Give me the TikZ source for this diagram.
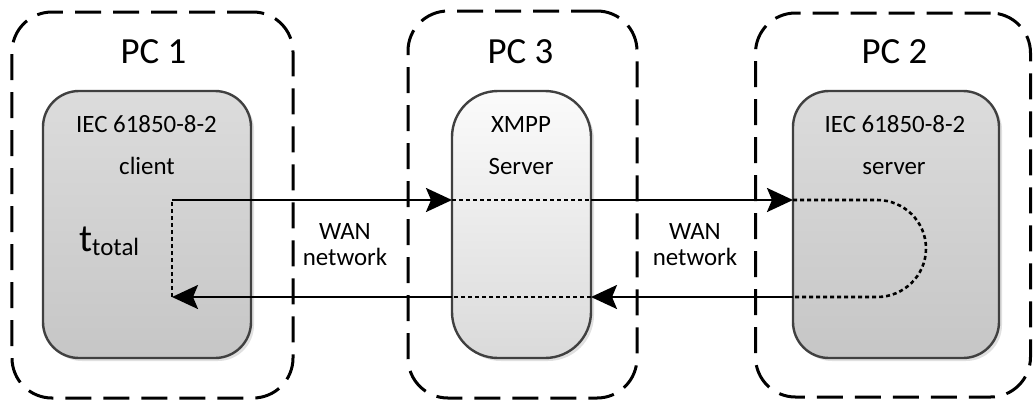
\documentclass[tikz,border=0pt]{standalone}
\usepackage{fontspec}
\setmainfont{Carlito}
\usetikzlibrary{arrows.meta,calc,shadows}
\definecolor{appTop}{HTML}{DCDCDC}
\definecolor{appBot}{HTML}{C6C6C6}
\definecolor{srvTop}{HTML}{FBFBFB}
\definecolor{srvBot}{HTML}{DADADA}
\definecolor{frameGray}{HTML}{404040}
\begin{document}
\begin{tikzpicture}[x=1bp,y=-1bp,
  pcbox/.style={draw=black, line width=3bp, dash pattern=on 26bp off 12bp,
    rounded corners=40bp, inner sep=0pt, outer sep=0pt},
  appbox/.style={draw=frameGray, line width=2.4bp, rounded corners=36bp,
    top color=appTop, bottom color=appBot, inner sep=0pt, outer sep=0pt,
    drop shadow={shadow xshift=3bp, shadow yshift=-3bp, fill=black!12, opacity=1}},
  xmppbox/.style={appbox, rounded corners=46bp, top color=srvTop, bottom color=srvBot},
  pclabel/.style={font=\fontsize{37}{40}\selectfont, inner sep=0pt},
  txt/.style={font=\fontsize{25}{28}\selectfont, inner sep=0pt, anchor=base},
  mainarrow/.style={line width=2.5bp, -{Stealth[length=26bp,width=24bp,inset=5bp]}},
  dotline/.style={line width=2.6bp, dash pattern=on 4bp off 3bp}
]
\useasboundingbox (0,0) rectangle (1033,407);

% outer PC frames
\node[pcbox, minimum width=281bp, minimum height=386bp] (pc1) at (152.5,205) {};
\node[pcbox, minimum width=229bp, minimum height=387bp] (pc3) at (522.5,204.5) {};
\node[pcbox, minimum width=275bp, minimum height=384bp] (pc2) at (893,205) {};

% inner application boxes
\node[appbox, minimum width=208bp, minimum height=267bp] (client) at (147,224.5) {};
\node[xmppbox, minimum width=139bp, minimum height=267bp] (xmpp) at (521.5,224.5) {};
\node[appbox, minimum width=206bp, minimum height=267bp] (server) at (896,224.5) {};

% PC labels
\node[pclabel] (pc1lbl) at (153.5,52) {PC 1};
\node[pclabel] (pc3lbl) at (520.5,52) {PC 3};
\node[pclabel] (pc2lbl) at (894.5,52) {PC 2};

% box texts
\node[txt] (cl1) at (146.5,132) {IEC 61850-8-2};
\node[txt] (cl2) at (147,174) {client};
\node[txt] (xm1) at (521,132) {XMPP};
\node[txt] (xm2) at (521,174) {Server};
\node[txt] (sv1) at (895,132) {IEC 61850-8-2};
\node[txt] (sv2) at (894,174) {server};
\node[inner sep=0pt, anchor=base west] (ttot) at (79,251)
  {\fontsize{39}{40}\selectfont t\raisebox{-4bp}{\fontsize{25}{26}\selectfont total}};

% WAN labels
\node[txt] (wan1a) at (345,239) {WAN};
\node[txt] (wan1b) at (345,265) {network};
\node[txt] (wan2a) at (695,239) {WAN};
\node[txt] (wan2b) at (695,265) {network};

% message path
\coordinate (cstart) at (172,200);
\coordinate (cend) at (172,297);
\coordinate (turnA) at (877,200);

\draw[mainarrow] (cstart) -- (cstart -| xmpp.west);
\draw[dotline] (cstart -| xmpp.west) -- (cstart -| xmpp.east);
\draw[mainarrow] (cstart -| xmpp.east) -- (cstart -| server.west);
\draw[dotline] (cstart -| server.west) -- (turnA)
  arc[start angle=90, end angle=-90, x radius=49bp, y radius=48.5bp]
  -- (cend -| server.west);
\draw[mainarrow] (cend -| server.west) -- (cend -| xmpp.east);
\draw[dotline] (cend -| xmpp.east) -- (cend -| xmpp.west);
\draw[mainarrow] (cend -| xmpp.west) -- (cend);
\draw[dotline] (cend) -- (cstart);
\end{tikzpicture}
\end{document}
